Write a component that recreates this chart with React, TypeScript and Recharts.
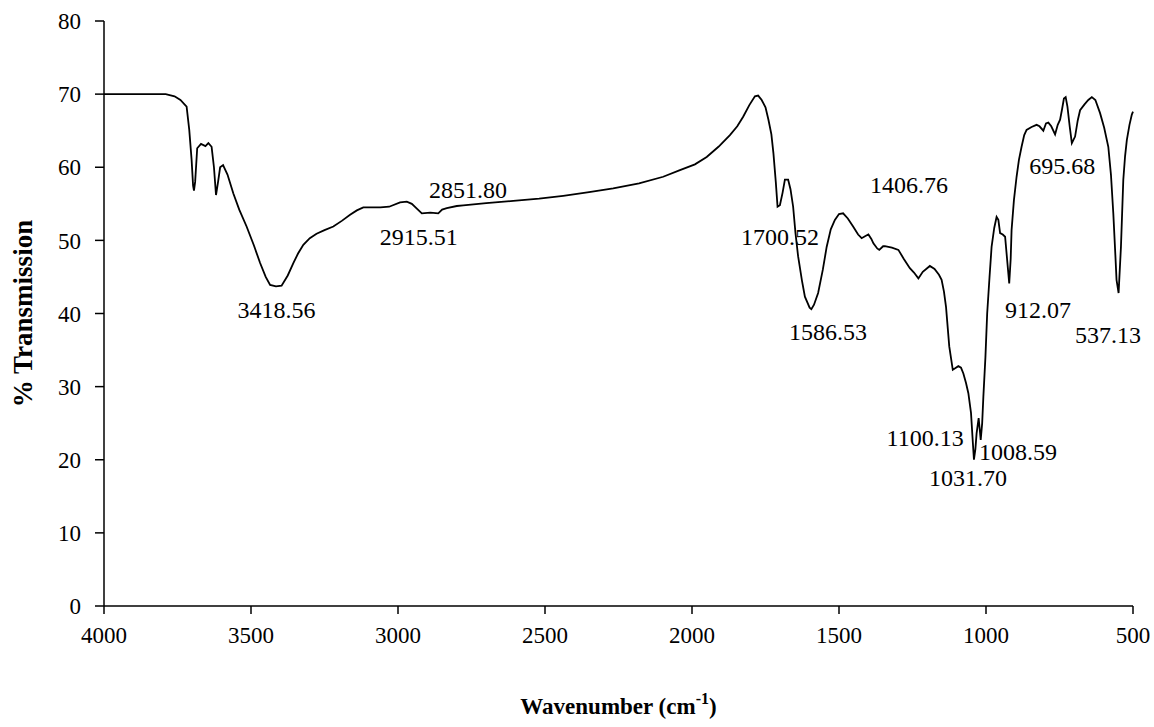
import React from "react";
import {
	LineChart,
	Line,
	XAxis,
	YAxis,
	ReferenceDot,
	Label,
} from "recharts";

// wavenumber (cm-1) from left to right
const wavenumbers = [
	4000, 3790, 3760, 3740, 3719, 3710, 3702, 3697, 3694, 3690, 3683, 3670, 3655, 3645, 3634, 3626,
	3619, 3612, 3605, 3595, 3580, 3560, 3540, 3515, 3490, 3469, 3450, 3435, 3415, 3396, 3375, 3356,
	3340, 3322, 3300, 3277, 3250, 3220, 3190, 3163, 3140, 3118, 3060, 3030, 2993, 2970, 2953, 2935,
	2919, 2890, 2863, 2850, 2834, 2800, 2778, 2700, 2608, 2520, 2438, 2350, 2268, 2180, 2098, 2041,
	1990, 1950, 1910, 1871, 1846, 1826, 1805, 1786, 1775, 1763, 1750, 1740, 1730, 1723, 1715, 1709,
	1701, 1692, 1684, 1673, 1665, 1656, 1648, 1639, 1626, 1616, 1600, 1594, 1585, 1571, 1555, 1542,
	1528, 1514, 1500, 1486, 1470, 1452, 1435, 1423, 1410, 1400, 1390, 1383, 1370, 1363, 1350, 1344,
	1320, 1298, 1280, 1259, 1245, 1230, 1215, 1191, 1175, 1160, 1151, 1143, 1136, 1125, 1113, 1105,
	1094, 1085, 1077, 1068, 1060, 1051, 1045, 1041, 1036, 1032, 1025, 1021, 1018, 1013, 1009, 1002,
	996, 988, 981, 972, 964, 958, 952, 943, 935, 928, 921, 916, 913, 905, 896, 888,
	879, 870, 862, 845, 828, 818, 805, 796, 788, 778, 765, 756, 748, 741, 735, 729,
	723, 715, 708, 697, 688, 680, 665, 652, 640, 628, 612, 598, 584, 575, 567, 560,
	556, 549, 541, 533, 527, 521, 512, 504, 500,
];

// % transmission at each wavenumber above
const transmission = [
	70, 70, 69.7, 69.2, 68.3, 65.1, 61, 57.5, 56.8, 58, 62.6, 63.2, 62.9, 63.3, 62.8, 60,
	56.2, 58, 60, 60.3, 59, 56.4, 54.2, 51.9, 49.3, 46.9, 45, 43.9, 43.7, 43.8, 45.2, 46.9,
	48.2, 49.4, 50.3, 50.9, 51.4, 51.9, 52.7, 53.5, 54.1, 54.5, 54.5, 54.6, 55.2, 55.3, 55, 54.3,
	53.7, 53.8, 53.7, 54.2, 54.4, 54.7, 54.8, 55.1, 55.4, 55.7, 56.1, 56.6, 57.1, 57.8, 58.7, 59.6,
	60.4, 61.4, 62.8, 64.4, 65.6, 66.9, 68.5, 69.7, 69.8, 69.2, 68.2, 66.5, 64.5, 61.9, 58, 54.6,
	54.8, 56.5, 58.3, 58.3, 57, 54.6, 51, 47.8, 44.5, 42.3, 40.8, 40.6, 41.2, 42.8, 46, 49.1,
	51.5, 52.8, 53.6, 53.7, 53, 51.9, 50.8, 50.3, 50.6, 50.8, 50.2, 49.6, 48.9, 48.7, 49.2, 49.2,
	49, 48.7, 47.5, 46.2, 45.6, 44.8, 45.7, 46.5, 46.1, 45.3, 44.6, 43, 40.9, 35.5, 32.3, 32.5,
	32.8, 32.6, 31.8, 30.5, 29.1, 26.4, 22.5, 20, 21.5, 23.6, 25.7, 24, 22.7, 25, 28.6, 34,
	40, 45, 49.1, 51.7, 53.2, 52.8, 51, 50.8, 50.5, 47.3, 44.1, 47.5, 51.4, 55.5, 58.7, 61,
	62.8, 64.4, 65.1, 65.5, 65.8, 65.6, 65, 66, 66.1, 65.6, 64.5, 65.8, 66.5, 68, 69.4, 69.6,
	68.3, 65.5, 63.3, 64.2, 66.4, 67.8, 68.6, 69.2, 69.6, 69.2, 67.4, 65.4, 62.8, 59, 53.7, 48,
	44.6, 42.8, 49.1, 58.3, 61.5, 63.7, 65.8, 67.2, 67.6,
];

const xTicks = [4000, 3500, 3000, 2500, 2000, 1500, 1000, 500];
const yTicks = [0, 10, 20, 30, 40, 50, 60, 70, 80];

// peak annotations: text, and where the text sits (wavenumber, %T)
const peakNames = [
	"3418.56", "2915.51", "2851.80", "1700.52", "1586.53", "1406.76",
	"1100.13", "1031.70", "1008.59", "912.07", "537.13", "695.68",
];
const peakLabelX = [3413, 2929, 2762, 1701, 1537, 1262, 1207, 1061, 891, 823, 585, 741];
const peakLabelY = [40.5, 50.6, 57.0, 50.5, 37.5, 57.6, 23.1, 17.6, 21.1, 40.6, 37.1, 60.2];

const data = wavenumbers.map((wn, i) => ({ wn, t: transmission[i] }));

const font = "'Liberation Serif', 'Times New Roman', serif";
const tickStyle = { fontFamily: font, fontSize: 23, fill: "#000" };

const XTitle = (props: any) => {
	const { viewBox } = props;
	const cx = viewBox.x + viewBox.width / 2;
	return (
		<text
			x={cx}
			y={viewBox.y + 108}
			textAnchor="middle"
			fontFamily={font}
			fontSize={23}
			fontWeight="bold"
			fill="#000"
		>
			Wavenumber (cm
			<tspan fontSize={16} dy={-10}>-1</tspan>
			<tspan dy={10}>)</tspan>
		</text>
	);
};

const App = () => {
	return (
		<div style={{ position: "absolute", left: 0, top: 0, background: "#fff" }}>
			<LineChart
				width={1154}
				height={727}
				data={data}
				margin={{ top: 21, right: 21, left: 8, bottom: 61 }}
			>
				<XAxis
					dataKey="wn"
					type="number"
					domain={[500, 4000]}
					ticks={xTicks}
					reversed
					height={60}
					axisLine={{ stroke: "#000", strokeWidth: 1.5 }}
					tickLine={{ stroke: "#000", strokeWidth: 1.5 }}
					tickSize={8}
					tickMargin={13}
					tick={tickStyle}
					label={<Label content={XTitle} />}
				/>
				<YAxis
					type="number"
					domain={[0, 80]}
					ticks={yTicks}
					width={96}
					axisLine={{ stroke: "#000", strokeWidth: 1.5 }}
					tickLine={{ stroke: "#000", strokeWidth: 1.5 }}
					tickSize={9}
					tickMargin={14}
					tick={tickStyle}
				>
					<Label
						value="% Transmission"
						angle={-90}
						position="insideLeft"
						offset={14}
						style={{
							textAnchor: "middle",
							fontFamily: font,
							fontSize: 27,
							fontWeight: "bold",
							fill: "#000",
						}}
					/>
				</YAxis>
				<Line
					type="linear"
					dataKey="t"
					stroke="#000"
					strokeWidth={1.8}
					dot={false}
					activeDot={false}
					isAnimationActive={false}
				/>
				{peakNames.map((name, i) => (
					<ReferenceDot
						key={name}
						x={peakLabelX[i]}
						y={peakLabelY[i]}
						r={0}
						fill="none"
						stroke="none"
						label={{
							value: name,
							position: "center",
							fontFamily: font,
							fontSize: 24,
							fill: "#000",
						}}
					/>
				))}
			</LineChart>
		</div>
	);
};

export default App;
